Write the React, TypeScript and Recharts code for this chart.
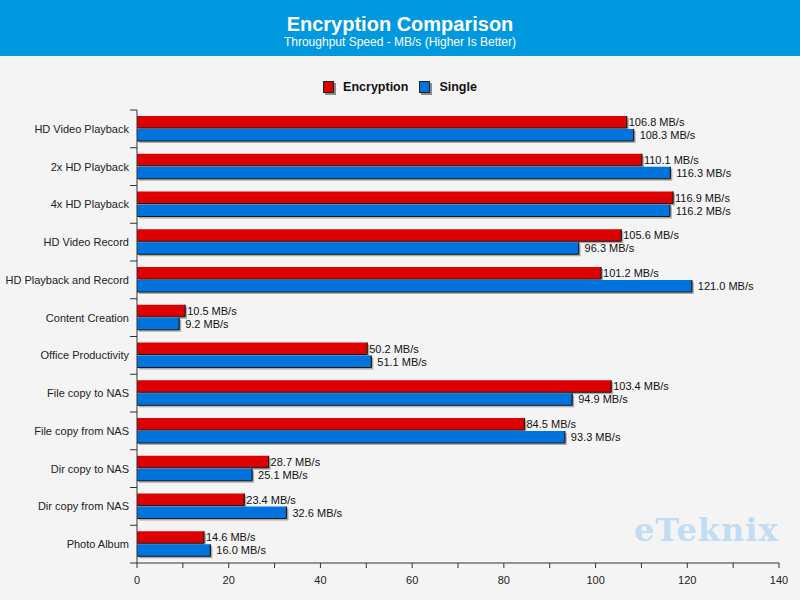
import { BarChart, Bar, XAxis, YAxis, LabelList } from 'recharts';

const categories = [
  'HD Video Playback',
  '2x HD Playback',
  '4x HD Playback',
  'HD Video Record',
  'HD Playback and Record',
  'Content Creation',
  'Office Productivity',
  'File copy to NAS',
  'File copy from NAS',
  'Dir copy to NAS',
  'Dir copy from NAS',
  'Photo Album',
];
const encryption = [106.8, 110.1, 116.9, 105.6, 101.2, 10.5, 50.2, 103.4, 84.5, 28.7, 23.4, 14.6];
const single = [108.3, 116.3, 116.2, 96.3, 121.0, 9.2, 51.1, 94.9, 93.3, 25.1, 32.6, 16.0];
const xTicks = [0, 10, 20, 30, 40, 50, 60, 70, 80, 90, 100, 110, 120, 130, 140];

const RED = '#dc0000';
const BLUE = '#0073dc';
const FONT = '"Liberation Sans", Arial, sans-serif';

const W = 800;
const H = 600;
const MARGIN = { top: 110, right: 21, bottom: 0, left: 0 };
const X_AXIS_H = 37;
const Y_AXIS_W = 137;
const BAND = (H - MARGIN.top - MARGIN.bottom - X_AXIS_H) / categories.length;

const data = categories.map((name, i) => ({ name, encryption: encryption[i], single: single[i] }));

const ShadowBar = (props: any) => {
  const { x, y, width, height, fill } = props;
  if (!width || width <= 0) return null;
  return (
    <g>
      <rect x={x + 2} y={y + 2} width={width} height={height} fill="#8a8a8a" opacity={0.7} />
      <rect x={x} y={y} width={width} height={height} fill={fill} />
      <line x1={x + width} y1={y} x2={x + width} y2={y + height} stroke="#1a1a1a" strokeWidth={1.2} />
      <line x1={x} y1={y + height} x2={x + width} y2={y + height} stroke="#1a1a1a" strokeWidth={1} />
    </g>
  );
};

const makeLabel = (gap: number) => (props: any) => {
  const { x, y, width, height, value } = props;
  return (
    <text x={x + width + gap} y={y + height / 2} dy={4} fontSize={11} fontFamily={FONT} fill="#111">
      {Number(value).toFixed(1)} MB/s
    </text>
  );
};
const RedLabel = makeLabel(2);
const BlueLabel = makeLabel(6);

const CategoryTick = (props: any) => {
  const { x, y, payload, index } = props;
  return (
    <g>
      <text x={x} y={y} dy={4} textAnchor="end" fontSize={11} fontFamily={FONT} fill="#222">
        {payload.value}
      </text>
      {index === 0 && (
        <line x1={x + 1} x2={x + 8} y1={y - BAND / 2} y2={y - BAND / 2} stroke="#333" />
      )}
      <line x1={x + 1} x2={x + 8} y1={y + BAND / 2} y2={y + BAND / 2} stroke="#333" />
    </g>
  );
};

const ValueTick = (props: any) => {
  const { x, y, payload } = props;
  const major = payload.value % 20 === 0;
  return (
    <g>
      <line x1={x} x2={x} y1={y - 8} y2={y - 3} stroke="#333" />
      {major && (
        <text x={x} y={y + 13} textAnchor="middle" fontSize={11} fontFamily={FONT} fill="#222">
          {payload.value}
        </text>
      )}
    </g>
  );
};

const LegendItem = ({ color, label }: { color: string; label: string }) => (
  <div style={{ display: 'flex', alignItems: 'center', gap: 9 }}>
    <div style={{ width: 9, height: 10, background: color, border: '1px solid #222', boxShadow: '2px 2px 0 #8a8a8a' }} />
    <span style={{ fontWeight: 700, fontSize: 12.5, color: '#111' }}>{label}</span>
  </div>
);

export default function App() {
  return (
    <div style={{ position: 'fixed', left: 0, top: 0, width: W, height: H, background: '#f4f4f4', fontFamily: FONT, overflow: 'hidden' }}>
      <div style={{ position: 'absolute', left: 0, top: 0, width: W, height: 56, background: '#0099e0', color: '#fff', textAlign: 'center' }}>
        <div style={{ fontSize: 20, fontWeight: 700, marginTop: 13, lineHeight: '22px' }}>Encryption Comparison</div>
        <div style={{ fontSize: 12, lineHeight: '14px' }}>Throughput Speed - MB/s (Higher Is Better)</div>
      </div>
      <div style={{ position: 'absolute', top: 80, left: 0, width: W, display: 'flex', justifyContent: 'center', gap: 11 }}>
        <LegendItem color={RED} label="Encryption" />
        <LegendItem color={BLUE} label="Single" />
      </div>
      <div style={{ position: 'absolute', left: 634, top: 511, fontFamily: '"DejaVu Serif", serif', fontWeight: 700, fontSize: 32, color: '#c2dcf2', letterSpacing: 1 }}>
        eTeknix
      </div>
      <div style={{ position: 'absolute', left: 0, top: 0 }}>
        <BarChart width={W} height={H} data={data} layout="vertical" margin={MARGIN} barSize={12} barGap={1}>
          <XAxis
            type="number"
            domain={[0, 140]}
            ticks={xTicks}
            interval={0}
            height={X_AXIS_H}
            axisLine={{ stroke: '#333' }}
            tickLine={false}
            tick={<ValueTick />}
          />
          <YAxis
            type="category"
            dataKey="name"
            width={Y_AXIS_W}
            interval={0}
            axisLine={{ stroke: '#333' }}
            tickLine={false}
            tick={<CategoryTick />}
          />
          <Bar dataKey="encryption" fill={RED} shape={<ShadowBar />} isAnimationActive={false}>
            <LabelList dataKey="encryption" content={<RedLabel />} />
          </Bar>
          <Bar dataKey="single" fill={BLUE} shape={<ShadowBar />} isAnimationActive={false}>
            <LabelList dataKey="single" content={<BlueLabel />} />
          </Bar>
        </BarChart>
      </div>
    </div>
  );
}
